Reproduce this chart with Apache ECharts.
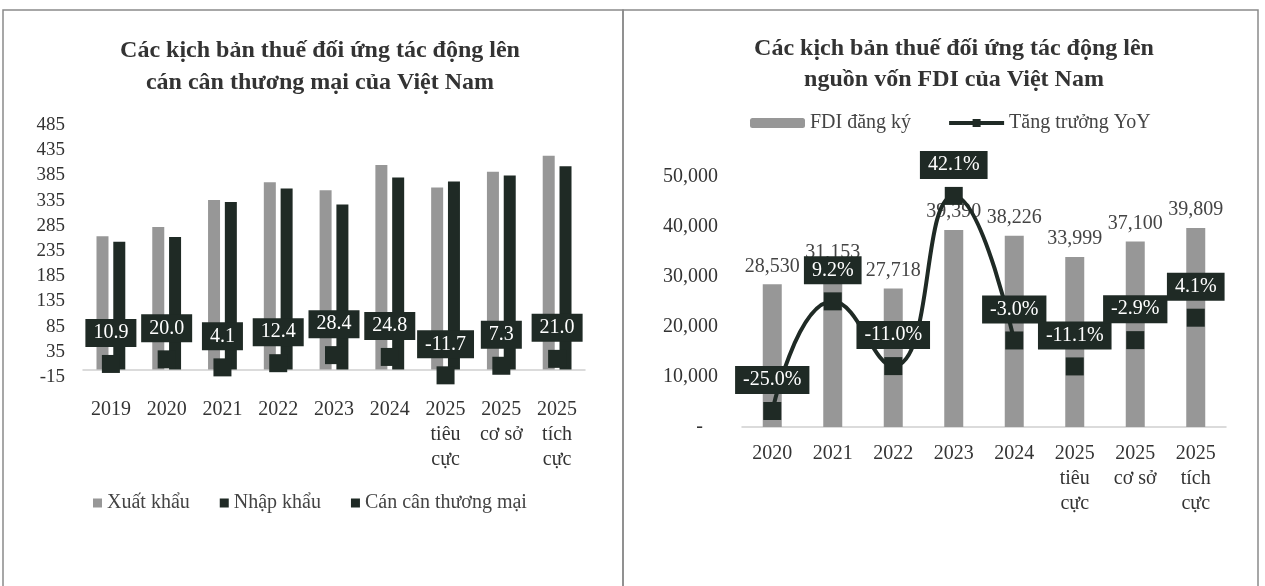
<!DOCTYPE html>
<html>
<head>
<meta charset="utf-8">
<script src="https://cdn.jsdelivr.net/npm/echarts@6/dist/echarts.min.js"></script>
<style>
  html, body { margin: 0; padding: 0; background: #fff; }
  #main { width: 1265px; height: 586px; }
</style>
</head>
<body>
<div id="main"></div>
<script>
// left chart: trade balance (bn USD)
var tradeCats = ['2019', '2020', '2021', '2022', '2023', '2024', '2025\ntiêu\ncực', '2025\ncơ sở', '2025\ntích\ncực'];
var exportVals = [264.2, 282.7, 336.3, 371.3, 355.5, 405.5, 361.0, 392.3, 424.0];
var importVals = [253.3, 262.7, 332.2, 358.9, 327.1, 380.7, 372.7, 385.0, 403.0];
var balanceVals = [10.9, 20.0, 4.1, 12.4, 28.4, 24.8, -11.7, 7.3, 21.0];

// right chart: FDI (mn USD) and YoY growth (%)
var fdiCats = ['2020', '2021', '2022', '2023', '2024', '2025\ntiêu\ncực', '2025\ncơ sở', '2025\ntích\ncực'];
var fdiVals = [28530, 31153, 27718, 39390, 38226, 33999, 37100, 39809];
var yoyVals = [-25.0, 9.2, -11.0, 42.1, -3.0, -11.1, -2.9, 4.1];
var nActual = 5; // 2020-2024 nối bằng đường, các kịch bản 2025 chỉ có điểm

var dark = '#1f2a25';
var light = '#979797';
var serif = '"Liberation Serif", "DejaVu Serif", serif';

var chart = echarts.init(document.getElementById('main'));

// nhãn hộp tối
function boxLabel(fmt) {
  return {
    show: true,
    position: 'top',
    distance: 8,
    color: '#fff',
    fontSize: 20,
    fontFamily: serif,
    backgroundColor: dark,
    padding: [4, 8],
    formatter: fmt
  };
}
function pctFmt(p) { return p.value.toFixed(1) + '%'; }

var yoyLine = yoyVals.map(function (v, i) { return i < nActual ? v : '-'; });
var yoyScen = yoyVals.map(function (v, i) { return i < nActual ? '-' : v; });

var option = {
  backgroundColor: '#fff',
  animation: false,
  textStyle: { fontFamily: serif, color: '#333' },
  graphic: [
    { type: 'rect', shape: { x: 3, y: 10, width: 620, height: 600 }, style: { fill: 'none', stroke: '#8a8a8a', lineWidth: 1.5 } },
    { type: 'rect', shape: { x: 623, y: 10, width: 635, height: 600 }, style: { fill: 'none', stroke: '#8a8a8a', lineWidth: 1.5 } }
  ],
  title: [
    {
      text: 'Các kịch bản thuế đối ứng tác động lên\ncán cân thương mại của Việt Nam',
      left: 315, top: 30, textAlign: 'center',
      textStyle: { fontFamily: serif, fontSize: 24, fontWeight: 'bold', color: '#333', lineHeight: 32 }
    },
    {
      text: 'Các kịch bản thuế đối ứng tác động lên\nnguồn vốn FDI của Việt Nam',
      left: 949, top: 28, textAlign: 'center',
      textStyle: { fontFamily: serif, fontSize: 24, fontWeight: 'bold', color: '#333', lineHeight: 31 }
    }
  ],
  legend: [
    {
      data: ['Xuất khẩu', 'Nhập khẩu', 'Cán cân thương mại'],
      left: 88, top: 488, icon: 'rect', itemWidth: 9, itemHeight: 9, itemGap: 30,
      textStyle: { fontFamily: serif, fontSize: 20, color: '#444' }
    },
    {
      data: ['FDI đăng ký', 'Tăng trưởng YoY'],
      left: 745, top: 108, itemWidth: 55, itemHeight: 10, itemGap: 36,
      lineStyle: { width: 4 },
      textStyle: { fontFamily: serif, fontSize: 20, color: '#444' }
    }
  ],
  grid: [
    { left: 83, right: 680, top: 125, height: 252 },
    { left: 742, right: 39, top: 177, height: 250 }
  ],
  xAxis: [
    {
      type: 'category', gridIndex: 0, data: tradeCats,
      axisLine: { onZero: true, lineStyle: { color: '#d0d0d0', width: 1.5 } },
      axisTick: { show: false },
      axisLabel: { fontSize: 20, lineHeight: 25, color: '#333', margin: 20, interval: 0 }
    },
    {
      type: 'category', gridIndex: 1, data: fdiCats,
      axisLine: { lineStyle: { color: '#d0d0d0', width: 1.5 } },
      axisTick: { show: false },
      axisLabel: { fontSize: 20, lineHeight: 25, color: '#333', margin: 14, interval: 0 }
    }
  ],
  yAxis: [
    {
      type: 'value', gridIndex: 0, min: -15, max: 485, interval: 50,
      axisLine: { show: false }, axisTick: { show: false }, splitLine: { show: false },
      axisLabel: { fontSize: 19, color: '#333', margin: 18 }
    },
    {
      type: 'value', gridIndex: 1, min: 0, max: 50000, interval: 10000,
      axisLine: { show: false }, axisTick: { show: false }, splitLine: { show: false },
      axisLabel: {
        fontSize: 20, color: '#333', margin: 24,
        formatter: function (v) { return v === 0 ? '-   ' : v.toLocaleString('en-US'); }
      }
    },
    {
      type: 'value', gridIndex: 1, min: -30, max: 48, show: false
    }
  ],
  series: [
    {
      name: 'Xuất khẩu', type: 'bar', xAxisIndex: 0, yAxisIndex: 0,
      data: exportVals, barWidth: 12, barGap: '40%',
      itemStyle: { color: light }
    },
    {
      name: 'Nhập khẩu', type: 'bar', xAxisIndex: 0, yAxisIndex: 0,
      data: importVals, barWidth: 12, barGap: '40%',
      itemStyle: { color: dark }
    },
    {
      name: 'Cán cân thương mại', type: 'line', xAxisIndex: 0, yAxisIndex: 0,
      data: balanceVals, symbol: 'rect', symbolSize: 18,
      lineStyle: { width: 0, opacity: 0 },
      itemStyle: { color: dark },
      label: boxLabel(function (p) { return p.value.toFixed(1); }),
      z: 5
    },
    {
      name: 'FDI đăng ký', type: 'bar', xAxisIndex: 1, yAxisIndex: 1,
      data: fdiVals, barWidth: 19,
      itemStyle: { color: light },
      label: {
        show: true, position: 'top', distance: 8, fontSize: 20, fontFamily: serif, color: '#444',
        formatter: function (p) { return p.value.toLocaleString('en-US'); }
      }
    },
    {
      name: 'Tăng trưởng YoY', type: 'line', xAxisIndex: 1, yAxisIndex: 2,
      data: yoyLine, smooth: true, symbol: 'rect', symbolSize: 18,
      lineStyle: { color: dark, width: 4 },
      itemStyle: { color: dark },
      label: boxLabel(pctFmt),
      z: 5
    },
    {
      name: 'Tăng trưởng YoY', type: 'line', xAxisIndex: 1, yAxisIndex: 2,
      data: yoyScen, symbol: 'rect', symbolSize: 18,
      lineStyle: { width: 0, opacity: 0 },
      itemStyle: { color: dark },
      label: boxLabel(pctFmt),
      z: 5
    }
  ]
};

chart.setOption(option);
</script>
</body>
</html>
